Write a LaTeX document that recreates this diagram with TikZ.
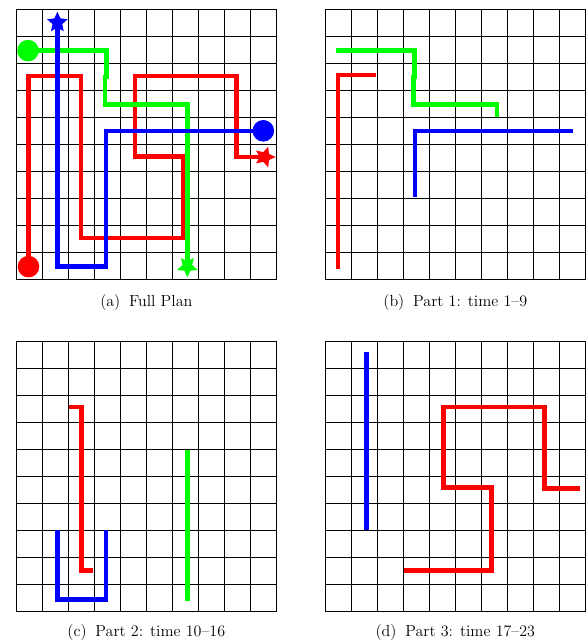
\documentclass[tikz,border=0pt]{standalone}
\usetikzlibrary{shapes}
\usepackage{xcolor}
\definecolor{planred}{HTML}{FF0000}
\definecolor{plangreen}{HTML}{00FF00}
\definecolor{planblue}{HTML}{0000FF}

\begin{document}
\begin{tikzpicture}[
  panel/.style={shift={#1}, x=0.65cm, y=-0.675cm},
  gridline/.style={line width=0.7pt, black, line cap=rect},
  route/.style={line width=3.2pt, draw=#1},
  startdot/.style={circle, fill=#1, inner sep=0pt, minimum size=0.54cm},
  goalstar/.style={star, star points=5, star point ratio=2.1, fill=#1, inner sep=0pt, minimum size=0.54cm},
  caption/.style={font=\fontsize{11.4}{13}\selectfont}
]
  \useasboundingbox (0,0) rectangle (14.65,-16.1);

  % (a) full plan
  \begin{scope}[panel={(0.4075,-0.2325)}]
    \foreach \i in {0,...,10} {
      \draw[gridline] (\i,0) -- (\i,10);
      \draw[gridline] (0,\i) -- (10,\i);
    }
    \node[startdot=planred] (aRs) at (0.47,9.53) {};
    \node[goalstar=planred, shape border rotate=-90] (aRg) at (9.56,5.47) {};
    \draw[route=planred] (aRs.center) -- (0.47,2.47) -- (2.49,2.47) -- (2.49,8.47) -- (6.42,8.47) -- (6.42,5.45) -- (4.56,5.45) -- (4.56,2.47) -- (8.47,2.47) -- (8.47,5.47) -- (aRg.center);
    \node[startdot=plangreen] (aGs) at (0.45,1.53) {};
    \node[goalstar=plangreen, shape border rotate=180] (aGg) at (6.58,9.53) {};
    \draw[route=plangreen] (aGs.center) -- (3.46,1.53) -- (3.46,2.5) -- (3.41,2.5) -- (3.41,3.53) -- (6.58,3.53) -- (aGg.center);
    \node[startdot=planblue] (aBs) at (9.5,4.5) {};
    \node[goalstar=planblue] (aBg) at (1.58,0.49) {};
    \draw[route=planblue] (aBs.center) -- (3.45,4.5) -- (3.45,9.53) -- (1.58,9.53) -- (aBg.center);
    \node[caption] (capa) at (5,10.87) {(a)\hspace{0.55em}Full Plan};
  \end{scope}

  % (b) part 1
  \begin{scope}[panel={(8.1325,-0.2325)}]
    \foreach \i in {0,...,10} {
      \draw[gridline] (\i,0) -- (\i,10);
      \draw[gridline] (0,\i) -- (10,\i);
    }
    \draw[route=planred] (0.49,9.63) -- (0.49,2.43) -- (1.96,2.43);
    \draw[route=plangreen] (0.42,1.53) -- (3.44,1.53) -- (3.44,2.5) -- (3.39,2.5) -- (3.39,3.53) -- (6.6,3.53) -- (6.6,3.98);
    \draw[route=planblue] (9.53,4.5) -- (3.45,4.5) -- (3.45,6.96);
    \node[caption] (capb) at (5,10.87) {(b)\hspace{0.55em}Part 1: time 1--9};
  \end{scope}

  % (c) part 2
  \begin{scope}[panel={(0.4075,-8.5325)}]
    \foreach \i in {0,...,10} {
      \draw[gridline] (\i,0) -- (\i,10);
      \draw[gridline] (0,\i) -- (10,\i);
    }
    \draw[route=planred] (2.03,2.44) -- (2.51,2.44) -- (2.51,8.49) -- (2.96,8.49);
    \draw[route=plangreen] (6.58,4.02) -- (6.58,9.62);
    \draw[route=planblue] (1.58,7.0) -- (1.58,9.56) -- (3.45,9.56) -- (3.45,7.0);
    \node[caption] (capc) at (5,10.8) {(c)\hspace{0.55em}Part 2: time 10--16};
  \end{scope}

  % (d) part 3
  \begin{scope}[panel={(8.1325,-8.5325)}]
    \foreach \i in {0,...,10} {
      \draw[gridline] (\i,0) -- (\i,10);
      \draw[gridline] (0,\i) -- (10,\i);
    }
    \draw[route=planred] (3.01,8.49) -- (6.4,8.49) -- (6.4,5.41) -- (4.55,5.41) -- (4.55,2.44) -- (8.44,2.44) -- (8.44,5.46) -- (9.81,5.46);
    \draw[route=planblue] (1.59,0.41) -- (1.59,7.0);
    \node[caption] (capd) at (5,10.8) {(d)\hspace{0.55em}Part 3: time 17--23};
  \end{scope}
\end{tikzpicture}
\end{document}
